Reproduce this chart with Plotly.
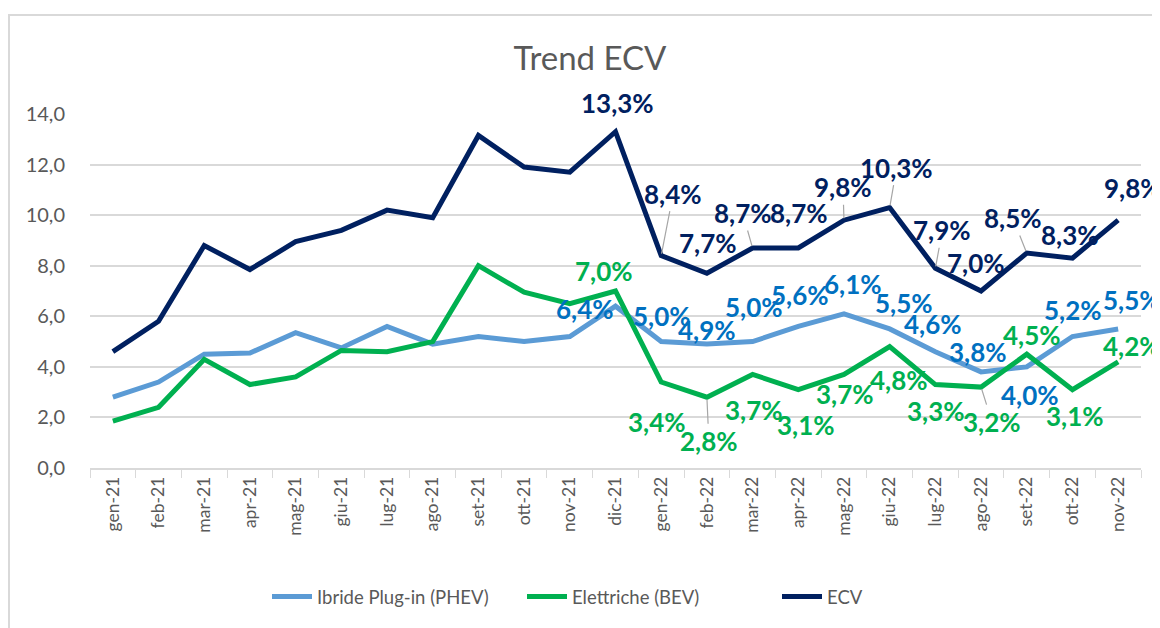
import plotly.graph_objects as go

months = ["gen-21", "feb-21", "mar-21", "apr-21", "mag-21", "giu-21", "lug-21", "ago-21",
          "set-21", "ott-21", "nov-21", "dic-21", "gen-22", "feb-22", "mar-22", "apr-22",
          "mag-22", "giu-22", "lug-22", "ago-22", "set-22", "ott-22", "nov-22"]

phev = [2.8, 3.4, 4.5, 4.55, 5.35, 4.75, 5.6, 4.9, 5.2, 5.0, 5.2, 6.4,
        5.0, 4.9, 5.0, 5.6, 6.1, 5.5, 4.6, 3.8, 4.0, 5.2, 5.5]
bev = [1.85, 2.4, 4.3, 3.3, 3.6, 4.65, 4.6, 5.0, 8.0, 6.95, 6.5, 7.0,
       3.4, 2.8, 3.7, 3.1, 3.7, 4.8, 3.3, 3.2, 4.5, 3.1, 4.2]
ecv = [4.6, 5.8, 8.8, 7.85, 8.95, 9.4, 10.2, 9.9, 13.15, 11.9, 11.7, 13.3,
       8.4, 7.7, 8.7, 8.7, 9.8, 10.3, 7.9, 7.0, 8.5, 8.3, 9.8]

series_names = ["Ibride Plug-in (PHEV)", "Elettriche (BEV)", "ECV"]
line_colors = ["#5B9BD5", "#00B050", "#002060"]
label_colors = ["#0070C0", "#00B050", "#002060"]

first_label = 11  # labels shown from dic-21 onwards

# label offsets in pixels (dx right, dy down) relative to each labelled point, and leader flag
ecv_off = [(2, -29, 0), (12, -62, 1), (1, -30, 0), (-10, -35, 1), (1, -35, 0), (-1, -33, 1),
           (7, -40, 1), (7, -38, 1), (-5, -28, 0), (-14, -35, 1), (-2, -23, 0), (15, -32, 0)]
phev_off = [(-31, 3, 0), (1, -26, 0), (0, -14, 0), (1, -35, 0), (2, -31, 0), (9, -30, 0),
            (14, -26, 0), (-2, -28, 0), (-3, -20, 0), (3, 28, 0), (1, -27, 0), (14, -29, 0)]
bev_off = [(-12, -20, 0), (-4, 40, 0), (2, 44, 1), (1, 36, 0), (8, 35, 0), (1, 20, 0),
           (9, 33, 0), (1, 26, 0), (11, 35, 1), (5, -19, 0), (3, 26, 0), (14, -16, 0)]

FONT = "Lato"
GRAY = "#595959"
BODY = 8  # default page margin of the html body

fig = go.Figure()
for name, vals, col in zip(series_names, [phev, bev, ecv], line_colors):
    fig.add_trace(go.Scatter(x=months, y=vals, mode="lines", name=name,
                             line=dict(color=col, width=5), cliponaxis=False))

annotations = []
for vals, offs, col in [(ecv, ecv_off, label_colors[2]), (phev, phev_off, label_colors[0]),
                        (bev, bev_off, label_colors[1])]:
    for k, (dx, dy, leader) in enumerate(offs):
        i = first_label + k
        txt = f"{vals[i]:.1f}".replace(".", ",") + "%"
        annotations.append(dict(
            x=months[i], y=vals[i], xref="x", yref="y", text=txt,
            showarrow=True, ax=dx, ay=dy, axref="pixel", ayref="pixel",
            arrowhead=0, arrowwidth=1.2,
            arrowcolor="#A6A6A6" if leader else "rgba(0,0,0,0)",
            standoff=2, startstandoff=0,
            font=dict(family=FONT, size=26, color=col, weight="bold"),
            xanchor="center", yanchor="middle"))

fig.update_layout(
    width=1160, height=628,
    margin=dict(l=90 - BODY, r=27, t=114 - BODY, b=168),
    paper_bgcolor="white", plot_bgcolor="white",
    separators=",.",
    title=dict(text="Trend ECV", x=(590 - BODY) / 1160, xref="container", xanchor="center",
               y=1 - (58 - BODY) / 628, yref="container", yanchor="middle",
               font=dict(family=FONT, size=33, color=GRAY)),
    font=dict(family=FONT, color=GRAY),
    showlegend=True,
    legend=dict(orientation="h", x=(267 - 90) / 1051, xanchor="left",
                y=(468 - 597) / 354, yanchor="middle", entrywidth=200,
                font=dict(family=FONT, size=18.5, color=GRAY), itemwidth=40,
                bgcolor="rgba(0,0,0,0)"),
    annotations=annotations,
    shapes=[dict(type="rect", xref="paper", yref="paper",
                 x0=(9 - 90) / 1051, x1=(1200 - 90) / 1051,
                 y0=(468 - 700) / 354, y1=(468 - 15) / 354,
                 line=dict(color="#D9D9D9", width=2), layer="below")],
)
fig.update_xaxes(type="category", range=[-0.5, len(months) - 0.5], tickangle=-90,
                 showgrid=False, showline=True, linecolor="#D9D9D9", linewidth=1.5,
                 ticks="outside", tickcolor="#D9D9D9", ticklen=8, tickson="boundaries",
                 tickfont=dict(family=FONT, size=17.5, color=GRAY))
fig.update_yaxes(range=[0, 14], dtick=2, tickformat=".1f", showgrid=True,
                 gridcolor="#D9D9D9", gridwidth=1.5, zeroline=False, showline=False,
                 ticks="", ticklabelstandoff=24,
                 tickfont=dict(family=FONT, size=20, color=GRAY))

fig.write_html("out.html")
